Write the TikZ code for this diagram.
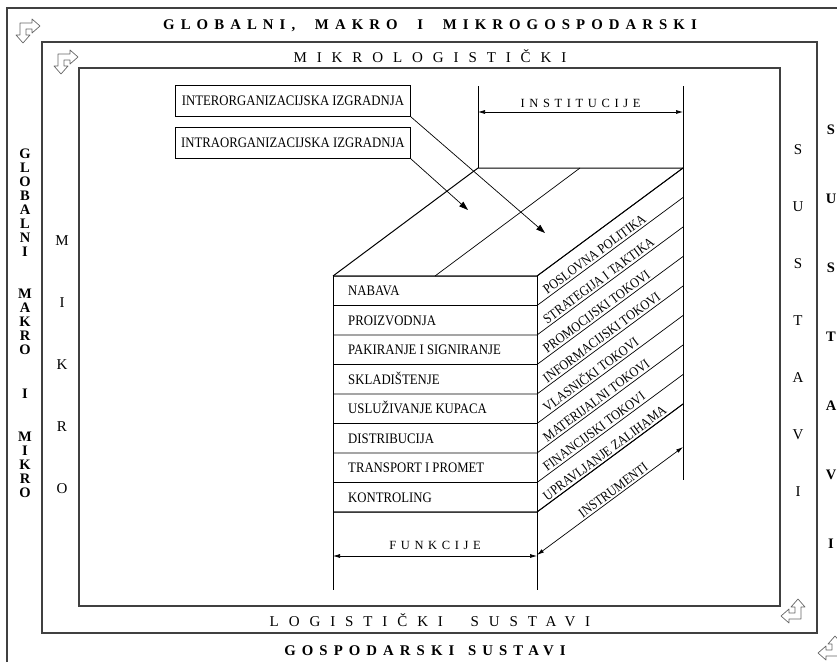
\documentclass[tikz,border=0pt]{standalone}
\usepackage{fontspec}
\setmainfont{Liberation Serif}
\newfontfamily\celija[FakeStretch=0.88]{Liberation Serif}
\newfontfamily\razmakn[LetterSpace=66]{Liberation Serif}
\newfontfamily\razmakb[LetterSpace=41]{Liberation Serif}
\newfontfamily\razmakm[LetterSpace=37]{Liberation Serif}
\usetikzlibrary{arrows.meta, positioning, calc}

\begin{document}
\begin{tikzpicture}[
  x=1pt, y=-1pt,
  okvir/.style={draw=black!75, line width=1.1pt},
  crta/.style={draw=black, line width=1pt},
  tanka/.style={draw=black, line width=0.7pt},
  celtekst/.style={font=\celija\fontsize{14.5}{16}\selectfont, inner sep=2pt,
                   text height=9.6pt, text depth=0pt},
  bocnitekst/.style={font=\celija\fontsize{13.8}{16}\selectfont, inner sep=2pt,
                   text height=9.2pt, text depth=0pt},
  kutija/.style={draw=black, line width=0.8pt, font=\celija\fontsize{14.5}{16}\selectfont,
                 minimum width=235pt, minimum height=31pt, inner sep=2pt},
  naslovb/.style={font=\razmakb\bfseries\fontsize{14.8}{16}\selectfont, inner sep=0pt},
  naslovn/.style={font=\razmakn\fontsize{15}{16}\selectfont, inner sep=0pt},
  kotatekst/.style={font=\razmakm\fontsize{12.5}{14}\selectfont, inner sep=2pt},
  stupac/.style={align=center, inner sep=0pt},
  strelica/.style={tanka, -{Triangle[length=9pt,width=6pt]}},
  kota/.style={tanka, {Latex[length=7pt,width=4pt]}-{Latex[length=7pt,width=4pt]}},
  ikona/.style={draw=black!60, line width=0.7pt, fill=white, line join=round}
]
\useasboundingbox (0,0) rectangle (837,662);

%--------------------------------------------------------------
% Okviri: gospodarski, mikrologisticki i logisticki sustav
%--------------------------------------------------------------
\draw[okvir] (7,662) -- (7,8) -- (837,8);
\draw[okvir] (42,42) rectangle (817,633);
\draw[okvir] (79,68) rectangle (780,606);

\foreach \cx/\cy/\kut in {28/31/0, 66/62/0, 793/611/180, 830/648/180}
  \draw[ikona, shift={(\cx,\cy)}, rotate=\kut]
    (-8,-8) -- (4,-8) -- (4,-12) -- (12,-5) -- (4,2) -- (4,-2) -- (-2,-2)
    -- (-2,4) -- (2,4) -- (-5,12) -- (-12,4) -- (-8,4) -- cycle;

%--------------------------------------------------------------
% Natpisi na okvirima
%--------------------------------------------------------------
\node[naslovb] (globgore) at (430,26)
  {GLOBALNI,\hspace{10pt} MAKRO\hspace{10pt} I\hspace{10pt} MIKROGOSPODARSKI};
\node[naslovn] (mikrogore) at (430,56) {MIKROLOGISTIČKI};
\node[naslovn] (logdolje) at (430,620) {LOGISTIČKI\hspace{14pt} SUSTAVI};
\node[naslovb] (gospdolje) at (425,651) {GOSPODARSKI\hspace{4pt} SUSTAVI};

\node[stupac, font=\bfseries\fontsize{14.5}{14}\selectfont] (globlijevo) at (25,323)
  {G\\L\\O\\B\\A\\L\\N\\I\\[28pt]M\\A\\K\\R\\O\\[30pt]I\\[29pt]M\\I\\K\\R\\O};
\node[stupac, font=\fontsize{15}{62}\selectfont] (mikrolijevo) at (62,365)
  {M\\I\\K\\R\\O};
\node[stupac, font=\fontsize{15}{57}\selectfont] (sustdesno) at (798,321)
  {S\\U\\S\\T\\A\\V\\I};
\node[stupac, font=\bfseries\fontsize{14.5}{69}\selectfont] (gospdesno) at (831,337)
  {S\\U\\S\\T\\A\\V\\I};

%--------------------------------------------------------------
% Kocka: gornja ploha
%--------------------------------------------------------------
\coordinate (pgl) at (333,276);
\coordinate (pgd) at (537,276);
\coordinate (sgl) at (478,168);
\coordinate (sgd) at (683,168);
\coordinate (pdl) at (333,590);
\coordinate (pdd) at (537,590);

\draw[crta] (pgl) -- (sgl) -- (sgd);
\draw[tanka] (435,276) -- (580,168);
\draw[tanka] (478,86) -- (sgl);
\draw[crta] (683,86) -- (683,480);
\draw[crta] (pgl) -- (pdl);
\draw[crta] (pgd) -- (pdd);

%--------------------------------------------------------------
% Funkcije (prednja ploha) i instrumenti (bocna ploha)
%--------------------------------------------------------------
\foreach \i in {0,...,8}
  \draw[tanka] (333,{276+29.5*\i}) -- (537,{276+29.5*\i}) -- (683,{168+29.5*\i});
\draw[crta] (pgl) -- (pgd) -- (sgd);
\draw[crta] (333,512) -- (537,512) -- (683,404);

\foreach \i/\tekst in {0/NABAVA, 1/PROIZVODNJA, 2/PAKIRANJE I SIGNIRANJE,
  3/SKLADIŠTENJE, 4/USLUŽIVANJE KUPACA, 5/DISTRIBUCIJA,
  6/TRANSPORT I PROMET, 7/KONTROLING}
  \node[celtekst, anchor=west] (fun\i) at (346,{290.75+29.5*\i}) {\tekst};

\foreach \i/\tekst in {0/POSLOVNA POLITIKA, 1/STRATEGIJA I TAKTIKA,
  2/PROMOCIJSKI TOKOVI, 3/INFORMACIJSKI TOKOVI, 4/VLASNIČKI TOKOVI,
  5/MATERIJALNI TOKOVI, 6/FINANCIJSKI TOKOVI, 7/UPRAVLJANJE ZALIHAMA}
  \node[bocnitekst, rotate=36.5, anchor=south west] (ins\i)
    at (547,{305.5+29.5*\i-7.9}) {\tekst};

%--------------------------------------------------------------
% Izgradnja: kutije i strelice prema gornjoj plohi
%--------------------------------------------------------------
\node[kutija, anchor=north west] (inter) at (175,85) {INTERORGANIZACIJSKA IZGRADNJA};
\node[kutija, anchor=north west] (intra) at (175,127) {INTRAORGANIZACIJSKA IZGRADNJA};

\coordinate (intervrh) at (545,233);
\coordinate (intravrh) at (468,210);
\draw[strelica] (inter.south east) -- (intervrh);
\draw[strelica] (intra.south east) -- (intravrh);

%--------------------------------------------------------------
% Kote: institucije, funkcije, instrumenti
%--------------------------------------------------------------
\coordinate (instl) at (478,112);
\coordinate (instd) at (683,112);
\coordinate (funkl) at (333,556);
\coordinate (funkd) at (537,556);
\coordinate (instrl) at (537,555);
\coordinate (instrd) at (683,447);

\draw[kota] (instl) -- node[kotatekst, above=2pt] (inst) {INSTITUCIJE} (instd);
\draw[kota] (funkl) -- node[kotatekst, above=4pt] (funk) {FUNKCIJE} (funkd);
\draw[kota] (instrl) -- node[bocnitekst, sloped, above, pos=0.55] (instr) {INSTRUMENTI} (instrd);

\end{tikzpicture}
\end{document}
